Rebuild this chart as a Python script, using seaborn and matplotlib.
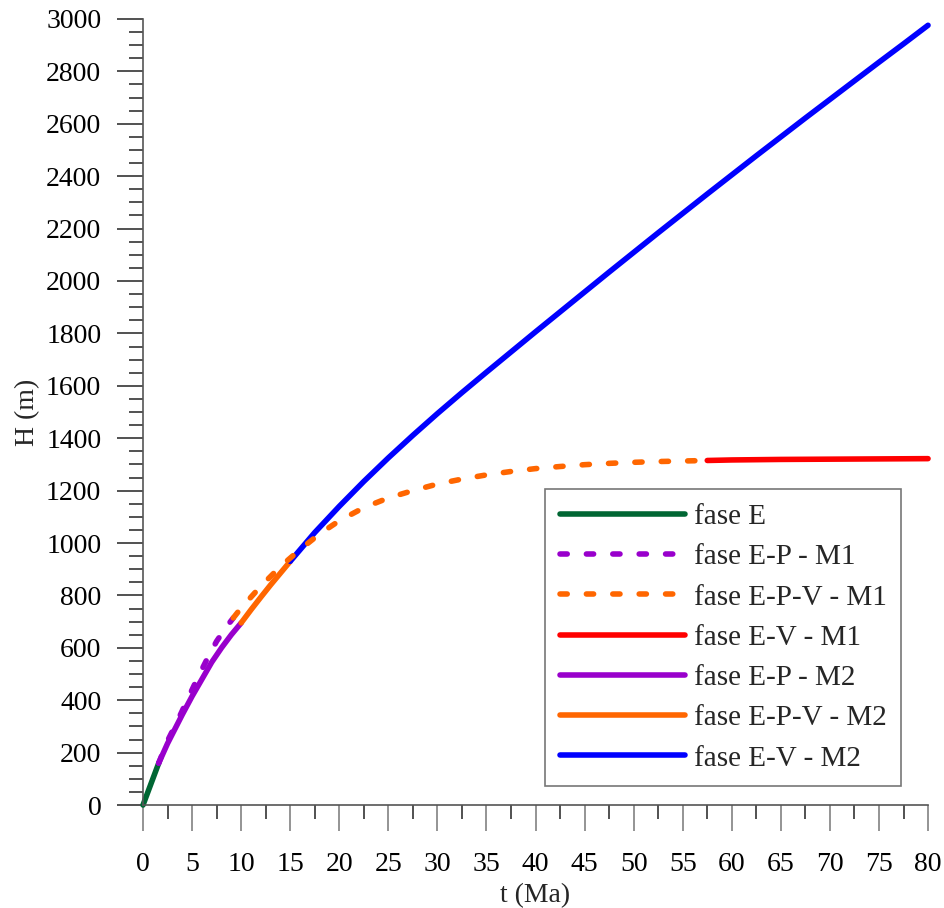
import numpy as np
import pandas as pd
import matplotlib
matplotlib.use("Agg")
import matplotlib.pyplot as plt
from matplotlib.ticker import MultipleLocator
import seaborn as sns

# Elevation H (m) versus time t (Ma) for each phase
t_e = [0.0, 1.6]
h_e = [0, 160]

t_ep_m1 = [1.6, 2.5, 3.5, 4.5, 5.5, 6.5, 7.5, 8.5, 9.2]
h_ep_m1 = [160, 245, 320, 400, 480, 555, 625, 680, 714]

t_epv_m1 = [9.2, 10, 12, 14, 16, 18, 20, 22.5, 25, 27.5, 30, 32.5, 35, 37.5,
            40, 42.5, 45, 47.5, 50, 52.5, 55, 57.5]
h_epv_m1 = [714, 752, 835, 910, 975, 1035, 1085, 1135, 1172, 1200, 1225, 1244,
            1260, 1273, 1284, 1292, 1299, 1304, 1308, 1311, 1313, 1315]

t_ev_m1 = [57.5, 60, 65, 70, 75, 80]
h_ev_m1 = [1315, 1317, 1319, 1320, 1321, 1322]

t_ep_m2 = [1.6, 2.5, 4, 5, 6, 7, 8, 9, 10]
h_ep_m2 = [160, 235, 345, 415, 480, 545, 600, 650, 695]

t_epv_m2 = [10, 11, 12, 13, 14, 15]
h_epv_m2 = [695, 745, 793, 840, 885, 930]

t_ev_m2 = [15, 17.5, 20, 22.5, 25, 27.5, 30, 32.5, 35, 37.5, 40, 42.5, 45,
           47.5, 50, 52.5, 55, 57.5, 60, 62.5, 65, 67.5, 70, 72.5, 75, 77.5, 80]
h_ev_m2 = [930, 1040, 1140, 1235, 1325, 1411, 1494, 1574, 1652, 1729, 1806,
           1882, 1958, 2034, 2109, 2184, 2258, 2332, 2405, 2478, 2550, 2622,
           2693, 2764, 2835, 2905, 2976]

labels = ["fase E", "fase E-P - M1", "fase E-P-V - M1", "fase E-V - M1",
          "fase E-P - M2", "fase E-P-V - M2", "fase E-V - M2"]

series = [
    (t_e, h_e, "#006633", False),
    (t_ep_m1, h_ep_m1, "#9900CC", True),
    (t_epv_m1, h_epv_m1, "#FF6600", True),
    (t_ev_m1, h_ev_m1, "#FF0000", False),
    (t_ep_m2, h_ep_m2, "#9900CC", False),
    (t_epv_m2, h_epv_m2, "#FF6600", False),
    (t_ev_m2, h_ev_m2, "#0000FF", False),
]

sns.set_theme(style="white")
plt.rcParams["font.family"] = ["Liberation Serif", "DejaVu Serif"]

fig = plt.figure(figsize=(9.44, 9.08), dpi=100)
ax = fig.add_axes([0.1515, 0.1134, 0.8316, 0.8657])

lw = 4.0
# Solid lines first, dashed lines on top
order = [0, 4, 5, 6, 3, 1, 2]
for i in order:
    tt, hh, col, dashed = series[i]
    df = pd.DataFrame({"t": tt, "H": hh})
    kw = dict(color=col, linewidth=lw, solid_capstyle="round",
              dash_capstyle="round", solid_joinstyle="round", clip_on=False)
    if dashed:
        kw["dashes"] = (1.3, 3.45)
    sns.lineplot(data=df, x="t", y="H", ax=ax, sort=False, estimator=None,
                 label=labels[i], **kw)

ax.set_xlim(0, 80)
ax.set_ylim(0, 3000)
ax.xaxis.set_major_locator(MultipleLocator(5))
ax.xaxis.set_minor_locator(MultipleLocator(2.5))
ax.yaxis.set_major_locator(MultipleLocator(200))
ax.yaxis.set_minor_locator(MultipleLocator(50))

ax.tick_params(axis="both", which="major", direction="out", length=19, width=1.1,
               labelsize=20, pad=11, color="#222222", labelcolor="black")
ax.tick_params(axis="x", which="major", color="#777777", pad=14.5)
ax.tick_params(axis="both", which="minor", direction="out", length=10, width=1.1,
               color="#222222")
ax.tick_params(bottom=True, left=True, which="both")

for side in ["top", "right"]:
    ax.spines[side].set_visible(False)
for side in ["left", "bottom"]:
    ax.spines[side].set_color("#555555")
    ax.spines[side].set_linewidth(1.2)

ax.set_xlabel("t (Ma)", fontsize=20, labelpad=5)
ax.set_ylabel("H (m)", fontsize=20, labelpad=4)

h, l = ax.get_legend_handles_labels()
lookup = dict(zip(l, h))
leg = ax.legend([lookup[k] for k in labels], labels, loc="upper left",
                bbox_to_anchor=(0.512, 0.402), fontsize=21, frameon=True,
                fancybox=False, handlelength=4.3, handletextpad=0.3,
                labelspacing=0.475, borderpad=0.5, borderaxespad=0)
leg.get_frame().set_edgecolor("#555555")
leg.get_frame().set_linewidth(1.2)
for line in leg.get_lines():
    line.set_linewidth(lw)

fig.savefig("out.png", dpi=100, facecolor="white")
